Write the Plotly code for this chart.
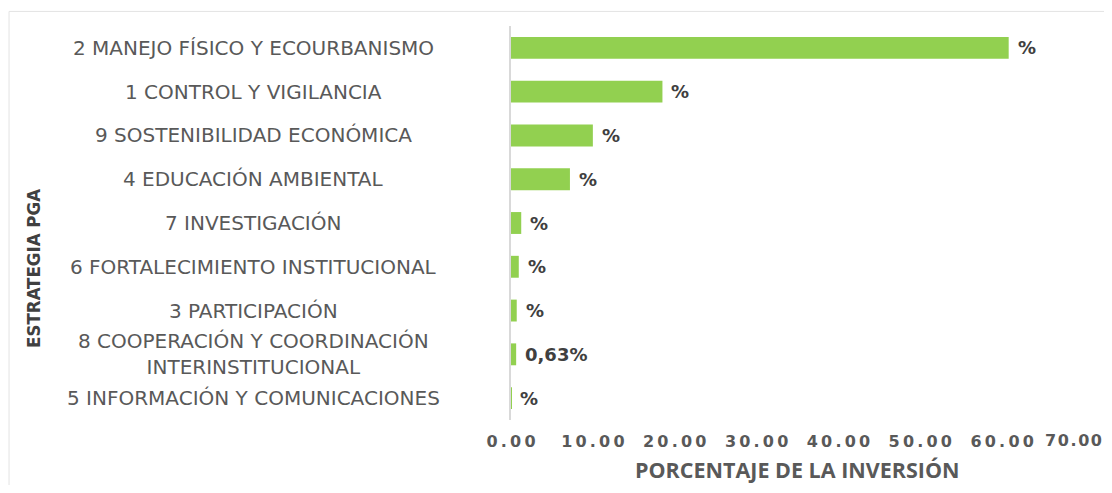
import plotly.graph_objects as go

# strategies, top to bottom as shown
categories = [
    "2 MANEJO FÍSICO Y ECOURBANISMO",
    "1 CONTROL Y VIGILANCIA",
    "9 SOSTENIBILIDAD ECONÓMICA",
    "4 EDUCACIÓN AMBIENTAL",
    "7 INVESTIGACIÓN",
    "6 FORTALECIMIENTO INSTITUCIONAL",
    "3 PARTICIPACIÓN",
    "8 COOPERACIÓN Y COORDINACIÓN<br>INTERINSTITUCIONAL",
    "5 INFORMACIÓN Y COMUNICACIONES",
]
values = [60.8, 18.5, 10.0, 7.2, 1.25, 0.95, 0.7, 0.63, 0.05]
labels = ["%", "%", "%", "%", "%", "%", "%", "0,63%", "%"]

x_ticks = [0, 10, 20, 30, 40, 50, 60, 70]
# thin spaces between glyphs to imitate the wide original font
x_tick_text = ["\u2009".join(f"{t:.2f}") for t in x_ticks]

GREEN = "#92d050"
GRAY = "#595959"
DARK = "#404040"
LABEL_FONT = "'DejaVu Sans', sans-serif"
TICK_FONT = {"family": "'DejaVu Sans', sans-serif", "size": 16, "color": GRAY, "weight": "bold"}

fig = go.Figure()

fig.add_trace(
    go.Bar(
        x=values,
        y=categories,
        orientation="h",
        marker={"color": GREEN, "line": {"width": 0}},
        showlegend=False,
        hoverinfo="x+y",
    )
)

annotations = []

# category labels, centred in the left column
for cat in categories:
    annotations.append(dict(
        x=-0.45, xref="paper", y=cat, yref="y",
        text=cat, showarrow=False, xanchor="center", yanchor="middle",
        align="center",
        font={"family": LABEL_FONT, "size": 20, "color": GRAY},
    ))

# data labels after each bar
for cat, val, lab in zip(categories, values, labels):
    annotations.append(dict(
        x=val, xref="x", y=cat, yref="y",
        text="<b>" + lab + "</b>", showarrow=False,
        xanchor="left", yanchor="middle", xshift=7,
        font={"family": "'DejaVu Sans', sans-serif", "size": 18, "color": DARK},
    ))

# last tick label sits at the page edge: tighter spacing and pinned inside
annotations.append(dict(
    x=x_ticks[-1], xref="x", y=-0.0508, yref="paper",
    text=x_tick_text[-1].replace("\u2009", "\u200a"), showarrow=False,
    xanchor="right", yanchor="middle", xshift=20,
    font=TICK_FONT,
))

# axis titles
annotations.append(dict(
    x=-0.8325, xref="paper", y=0.386, yref="paper",
    text="<b>ESTRATEGIA PGA</b>", textangle=-90, showarrow=False,
    xanchor="center", yanchor="middle",
    font={"family": "'Liberation Sans Narrow', 'DejaVu Sans Condensed', Roboto, sans-serif",
          "size": 18.5, "color": DARK},
))
annotations.append(dict(
    x=0.5, xref="paper", y=-0.125, yref="paper",
    text="<b>PORCENTAJE DE LA INVERSIÓN</b>", showarrow=False,
    xanchor="center", yanchor="middle",
    font={"family": "'Open Sans', sans-serif", "size": 21.5, "color": GRAY},
))

fig.update_xaxes(
    range=[0, 70],
    tickvals=x_ticks[:-1],
    ticktext=x_tick_text[:-1],
    showgrid=False,
    zeroline=False,
    showline=False,
    ticks="",
    automargin=False,
    ticklabelstandoff=10,
    tickfont=TICK_FONT,
)

fig.update_yaxes(
    autorange="reversed",
    showticklabels=False,
    showgrid=False,
    zeroline=False,
    showline=True,
    linecolor="#d9d9d9",
    linewidth=2,
    ticks="",
    automargin=False,
)

fig.update_layout(
    width=1096,
    height=477,
    margin={"l": 503, "r": 20, "t": 18, "b": 65},
    paper_bgcolor="white",
    plot_bgcolor="white",
    bargap=0.5,
    annotations=annotations,
    shapes=[dict(
        type="rect", xref="paper", yref="paper",
        x0=-0.876, x1=1.2, y0=-0.4, y1=1.037,
        line={"color": "#e3e3e3", "width": 1},
        fillcolor="rgba(0,0,0,0)", layer="below",
    )],
)

fig.write_html("out.html")
